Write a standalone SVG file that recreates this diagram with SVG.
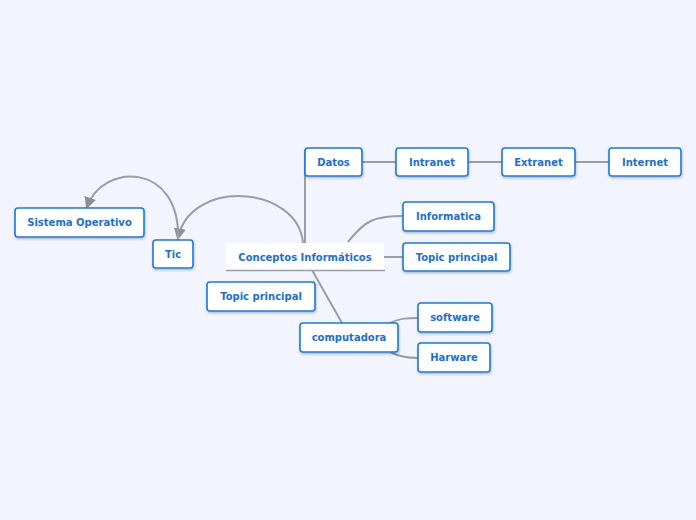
<svg xmlns="http://www.w3.org/2000/svg" width="696" height="520" viewBox="0 0 696 520">
<style>
.n rect{fill:#fff;stroke:#1b78e2;stroke-width:1.6}
.n text{font-family:"DejaVu Sans",Verdana,sans-serif;font-weight:bold;font-size:10px;fill:#1a6fd6;text-anchor:middle;dominant-baseline:central}
.c{fill:none;stroke:#9c9ca4;stroke-width:2}
</style>
<defs>
<filter id="sh" x="-10%" y="-10%" width="130%" height="150%"><feDropShadow dx="0.5" dy="1.5" stdDeviation="1" flood-color="#000" flood-opacity="0.25"/></filter>
<marker id="ah" viewBox="0 0 10 10" refX="8" refY="5" markerWidth="6" markerHeight="6" orient="auto"><path d="M0,0 L10,5 L0,10 z" fill="#8e8e94"/></marker>
</defs>
<rect width="696" height="520" fill="#f2f5fd"/>
<g id="connectors">
<path class="c" d="M305,245 L305,150"/>
<path class="c" d="M362,162 L396,162" stroke-width="3"/>
<path class="c" d="M468,162 L502,162"/>
<path class="c" d="M575,162 L609,162"/>
<path class="c" d="M348,242 C365,220 375,216 403,216"/>
<path class="c" d="M384,257 L403,257" stroke-width="1.2"/>
<path class="c" d="M312,270 L342,323"/>
<path class="c" d="M390,323 C400,318 408,318 418,318" stroke-width="1.5"/>
<path class="c" d="M390,352 C400,357 408,358 418,358" stroke-width="1.5"/>
<path class="c" d="M303,243 C298,185 190,178 178,238" marker-end="url(#ah)"/>
<path class="c" d="M178,240 C181,162 103,162 87,207" marker-end="url(#ah)"/>
</g>
<g id="n-sistema" class="n"><rect x="15" y="208" width="129" height="29" rx="3" filter="url(#sh)"/><text x="79.5" y="222.5">Sistema Operativo</text></g>
<g id="n-tic" class="n"><rect x="153" y="240" width="40" height="28" rx="3" filter="url(#sh)"/><text x="173" y="254">Tic</text></g>
<g id="n-central" class="n"><rect x="226" y="243" width="158" height="27" fill="#fff" style="stroke:none"/><line x1="226" y1="270.5" x2="385" y2="270.5" stroke="#9c9ca4" stroke-width="1.5"/><text x="305" y="257">Conceptos Informáticos</text></g>
<g id="n-topic-left" class="n"><rect x="207" y="282" width="108" height="29" rx="3" filter="url(#sh)"/><text x="261" y="296.5">Topic principal</text></g>
<g id="n-datos" class="n"><rect x="305" y="148" width="57" height="28" rx="3" filter="url(#sh)"/><text x="333.5" y="162">Datos</text></g>
<g id="n-intranet" class="n"><rect x="396" y="148" width="72" height="28" rx="3" filter="url(#sh)"/><text x="432" y="162">Intranet</text></g>
<g id="n-extranet" class="n"><rect x="502" y="148" width="73" height="28" rx="3" filter="url(#sh)"/><text x="538.5" y="162">Extranet</text></g>
<g id="n-internet" class="n"><rect x="609" y="148" width="72" height="28" rx="3" filter="url(#sh)"/><text x="645" y="162">Internet</text></g>
<g id="n-informatica" class="n"><rect x="403" y="202" width="91" height="29" rx="3" filter="url(#sh)"/><text x="448.5" y="216.5">Informatica</text></g>
<g id="n-topic-right" class="n"><rect x="403" y="243" width="107" height="28" rx="3" filter="url(#sh)"/><text x="456.5" y="257">Topic principal</text></g>
<g id="n-computadora" class="n"><rect x="300" y="323" width="98" height="29" rx="3" filter="url(#sh)"/><text x="349" y="337.5">computadora</text></g>
<g id="n-software" class="n"><rect x="418" y="303" width="74" height="29" rx="3" filter="url(#sh)"/><text x="455" y="317.5">software</text></g>
<g id="n-harware" class="n"><rect x="418" y="343" width="72" height="29" rx="3" filter="url(#sh)"/><text x="454" y="357.5">Harware</text></g>
</svg>
